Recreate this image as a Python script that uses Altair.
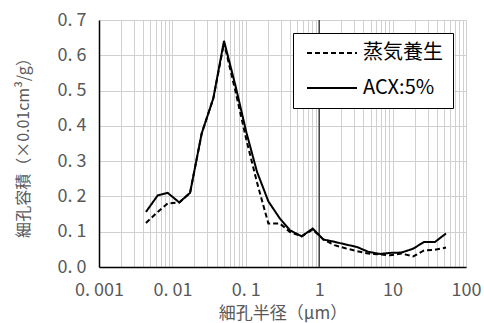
import altair as alt
import pandas as pd

# pore radius (µm)
radius = [0.00436, 0.00631, 0.00863, 0.0124, 0.0174, 0.0251, 0.0361, 0.0505, 0.0719, 0.102,
          0.142, 0.203, 0.292, 0.400, 0.578, 0.815, 1.14, 1.61, 2.28, 3.24,
          4.67, 6.73, 9.22, 13.3, 19.1, 26.8, 37.8, 53.4]
# pore volume (x0.01 cm3/g)
steam = [0.125, 0.156, 0.180, 0.183, 0.210, 0.379, 0.478, 0.635, 0.500, 0.360,
         0.240, 0.123, 0.123, 0.099, 0.087, 0.106, 0.078, 0.062, 0.053, 0.045,
         0.038, 0.036, 0.033, 0.038, 0.030, 0.047, 0.049, 0.055]
acx = [0.156, 0.203, 0.210, 0.183, 0.210, 0.379, 0.478, 0.641, 0.516, 0.381,
       0.270, 0.186, 0.137, 0.104, 0.087, 0.109, 0.078, 0.0715, 0.064, 0.057,
       0.043, 0.037, 0.040, 0.041, 0.052, 0.071, 0.071, 0.095]
series_names = ["蒸気養生", "ACX:5%"]

decades = [0.001, 0.01, 0.1, 1, 10, 100]
decade_labels = ["0. 001", "0. 01", "0. 1", "1", "10", "100"]
grid_x = []
for k in range(-3, 2):
    for m in range(1, 10):
        grid_x.append(float(f"{m}e{k}"))
grid_x.append(100.0)
y_ticks = [0.0, 0.1, 0.2, 0.3, 0.4, 0.5, 0.6, 0.7]
axis_cross = [1]

rows = []
for i, r in enumerate(radius):
    rows.append({"r": r, "v": steam[i], "s": series_names[0]})
    rows.append({"r": r, "v": acx[i], "s": series_names[1]})
df = pd.DataFrame(rows)

xlab = " : ".join(f"datum.value == {d} ? '{l}'" for d, l in zip(decades, decade_labels)) + " : ''"

FONT = "Noto Sans CJK JP"
GRAY = "#595959"

xscale = alt.Scale(type="log", domain=[0.001, 100], nice=False)
yscale = alt.Scale(domain=[0, 0.7], nice=False)

lines = alt.Chart(df).mark_line(color="black", strokeWidth=2).encode(
    x=alt.X("r:Q", scale=xscale,
            axis=alt.Axis(values=grid_x, labelExpr=xlab, title="細孔半径（μm）",
                          grid=True, gridColor="#d0d0d0", gridWidth=1,
                          ticks=False, domain=True, domainColor="black", domainWidth=1.5,
                          labelFont=FONT, labelFontSize=18, labelColor=GRAY, labelPadding=14,
                          labelOverlap=False, labelFlush=False,
                          titleFont=FONT, titleFontSize=17, titleColor=GRAY, titleFontWeight="normal",
                          titlePadding=6)),
    y=alt.Y("v:Q", scale=yscale,
            axis=alt.Axis(values=y_ticks, labelExpr="replace(format(datum.value, '.1f'), '.', '. ')",
                          title="細孔容積（×0.01cm³/g）",
                          grid=True, gridColor="#d0d0d0", gridWidth=1,
                          ticks=False, domain=True, domainColor="black", domainWidth=1.5,
                          labelFont=FONT, labelFontSize=18, labelColor=GRAY, labelPadding=13,
                          titleFont=FONT, titleFontSize=16, titleColor=GRAY, titleFontWeight="normal",
                          titlePadding=25)),
    strokeDash=alt.StrokeDash("s:N", scale=alt.Scale(domain=series_names, range=[[5, 3], [1, 0]]),
                              legend=alt.Legend(title=None, orient="none", legendX=194, legendY=13,
                                                symbolType="stroke", symbolSize=2500,
                                                symbolStrokeWidth=2, symbolStrokeColor="black",
                                                symbolOffset=3,
                                                labelFont=FONT, labelFontSize=20, labelColor="black",
                                                labelOffset=5, clipHeight=20, rowPadding=15, padding=10,
                                                fillColor="white", strokeColor="black",
                                                cornerRadius=0)),
)

cross = alt.Chart(pd.DataFrame({"x": axis_cross})).mark_rule(color="#404040", strokeWidth=1.5).encode(
    x=alt.X("x:Q", scale=xscale)
)

chart = alt.layer(cross, lines).properties(
    width=367, height=247,
    autosize=alt.AutoSizeParams(type="none"),
    padding={"left": 99, "top": 20, "right": 17, "bottom": 56},
).configure_view(stroke="black", strokeWidth=1.5).configure(background="white")

chart.save("out.html", embed_options={"renderer": "svg", "actions": False})
